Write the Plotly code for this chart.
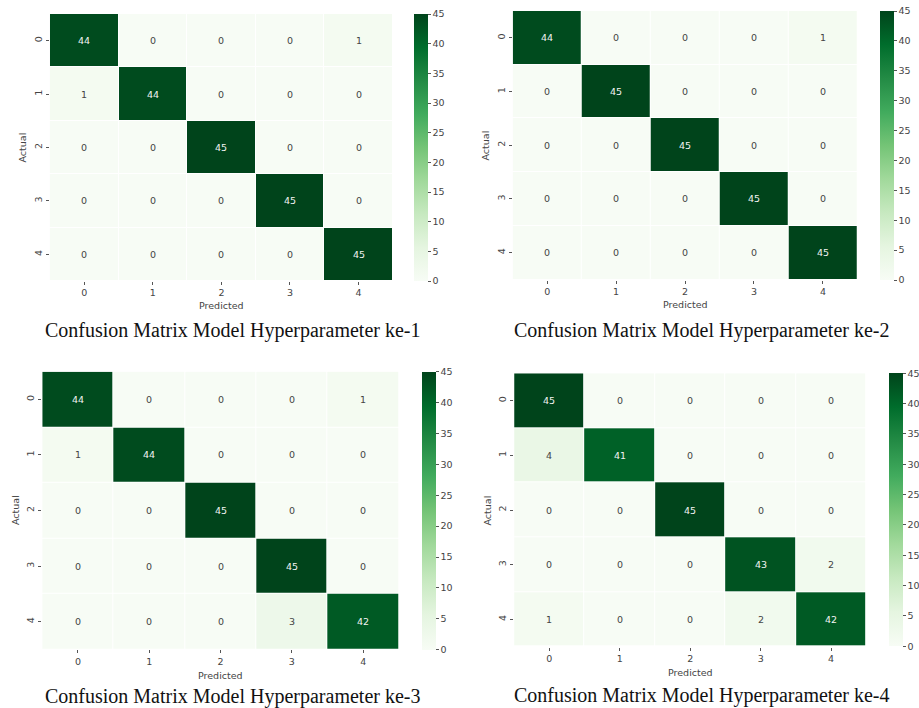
import plotly.graph_objects as go

# Class labels shared by every matrix
classes = [0, 1, 2, 3, 4]

# Confusion matrices (rows = actual, columns = predicted)
cm_ke1 = [[44, 0, 0, 0, 1],
          [1, 44, 0, 0, 0],
          [0, 0, 45, 0, 0],
          [0, 0, 0, 45, 0],
          [0, 0, 0, 0, 45]]
cm_ke2 = [[44, 0, 0, 0, 1],
          [0, 45, 0, 0, 0],
          [0, 0, 45, 0, 0],
          [0, 0, 0, 45, 0],
          [0, 0, 0, 0, 45]]
cm_ke3 = [[44, 0, 0, 0, 1],
          [1, 44, 0, 0, 0],
          [0, 0, 45, 0, 0],
          [0, 0, 0, 45, 0],
          [0, 0, 0, 3, 42]]
cm_ke4 = [[45, 0, 0, 0, 0],
          [4, 41, 0, 0, 0],
          [0, 0, 45, 0, 0],
          [0, 0, 0, 43, 2],
          [1, 0, 0, 2, 42]]

captions = ["Confusion Matrix Model Hyperparameter ke-1",
            "Confusion Matrix Model Hyperparameter ke-2",
            "Confusion Matrix Model Hyperparameter ke-3",
            "Confusion Matrix Model Hyperparameter ke-4"]
colorbar_ticks = [0, 5, 10, 15, 20, 25, 30, 35, 40, 45]

W, H = 919, 708

# Pixel placement of each panel: heatmap box, colorbar box, label centres
panels = [
    dict(hx=(50, 393.3), hy=(14, 281), cb=(414.3, 14, 267),
         actual=(23, 147.5), pred=(221.7, 305), cap=(232.5, 330)),
    dict(hx=(513.3, 858.3), hy=(11, 279.5), cb=(879.7, 11, 268.5),
         actual=(487, 145), pred=(686, 304), cap=(702.5, 330)),
    dict(hx=(42.3, 399.3), hy=(371.7, 649.3), cb=(421.7, 371.7, 277.6),
         actual=(15, 510), pred=(221, 675), cap=(232.5, 696)),
    dict(hx=(514.7, 867.3), hy=(373.3, 646.7), cb=(889, 373.3, 273.4),
         actual=(488, 510), pred=(691, 672.3), cap=(702.5, 695)),
]

greens = [[0.0, "#f7fcf5"], [0.125, "#e5f5e0"], [0.25, "#c7e9c0"],
          [0.375, "#a1d99b"], [0.5, "#74c476"], [0.625, "#41ab5d"],
          [0.75, "#238b45"], [0.875, "#006d2c"], [1.0, "#00441b"]]

tick_font = dict(family="DejaVu Sans", size=9.5, color="#444444")
matrices = [cm_ke1, cm_ke2, cm_ke3, cm_ke4]

fig = go.Figure()
annotations = []

for i, (cm, p) in enumerate(zip(matrices, panels)):
    n = i + 1
    xa = "x" if n == 1 else f"x{n}"
    ya = "y" if n == 1 else f"y{n}"
    cbx, cbtop, cblen = p["cb"]
    fig.add_trace(go.Heatmap(
        z=cm, x=classes, y=classes, xaxis=xa, yaxis=ya,
        zmin=0, zmax=45, colorscale=greens, xgap=1, ygap=1,
        hoverongaps=False,
        colorbar=dict(
            x=cbx / W, xanchor="left", y=1 - cbtop / H, yanchor="top",
            len=cblen, lenmode="pixels", thickness=14.3,
            thicknessmode="pixels", outlinewidth=0, xpad=0, ypad=0,
            tickvals=colorbar_ticks, ticks="outside", ticklen=3,
            tickcolor="#555555", tickfont=tick_font,
        ),
    ))
    xkey = "xaxis" if n == 1 else f"xaxis{n}"
    ykey = "yaxis" if n == 1 else f"yaxis{n}"
    fig.layout[xkey] = dict(
        domain=[p["hx"][0] / W, p["hx"][1] / W], anchor=ya,
        range=[-0.5, 4.5], tickvals=classes, ticks="outside", ticklen=3,
        tickcolor="#555555", tickfont=tick_font, showgrid=False,
        zeroline=False, showline=False, fixedrange=True,
    )
    fig.layout[ykey] = dict(
        domain=[1 - p["hy"][1] / H, 1 - p["hy"][0] / H], anchor=xa,
        range=[4.5, -0.5], tickvals=classes, ticks="outside", ticklen=3,
        tickangle=-90, tickcolor="#555555", tickfont=tick_font,
        showgrid=False, zeroline=False, showline=False, fixedrange=True,
    )
    # Cell counts
    for r, row in enumerate(cm):
        for c, v in enumerate(row):
            annotations.append(dict(
                x=c, y=r, xref=xa, yref=ya, text=str(v), showarrow=False,
                font=dict(family="DejaVu Sans", size=9.5,
                          color="#f2f2f2" if v > 22 else "#444444"),
            ))
    # Axis titles and caption
    ax, ay = p["actual"]
    annotations.append(dict(
        x=ax / W, y=1 - ay / H, xref="paper", yref="paper", text="Actual",
        textangle=-90, showarrow=False, font=tick_font,
        xanchor="center", yanchor="middle"))
    px_, py_ = p["pred"]
    annotations.append(dict(
        x=px_ / W, y=1 - py_ / H, xref="paper", yref="paper",
        text="Predicted", showarrow=False, font=tick_font,
        xanchor="center", yanchor="middle"))
    cx, cy = p["cap"]
    annotations.append(dict(
        x=cx / W, y=1 - cy / H, xref="paper", yref="paper",
        text=captions[i], showarrow=False,
        font=dict(family="Liberation Serif", size=20, color="#111111"),
        xanchor="center", yanchor="middle"))

fig.update_layout(
    width=W, height=H, margin=dict(l=0, r=0, t=0, b=0),
    paper_bgcolor="white", plot_bgcolor="white",
    annotations=annotations, showlegend=False,
)

fig.write_html("out.html")
